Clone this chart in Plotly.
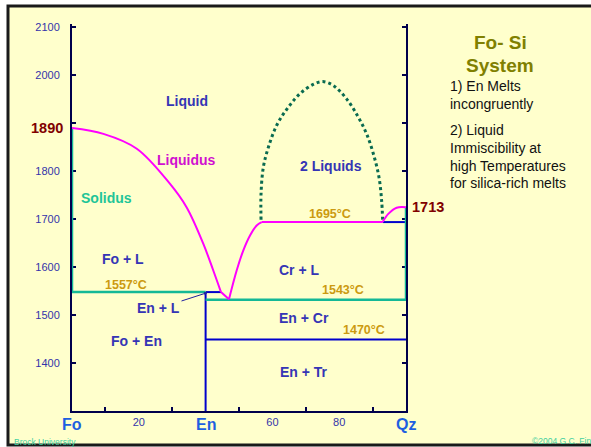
import plotly.graph_objects as go

# ---- data ----
liq_arc_x = [0, 9.4, 19.4, 29.3, 34.3, 39.3, 42.3, 44.6]
liq_arc_T = [1890, 1878, 1847, 1774, 1725, 1649, 1593, 1548]
liq_eut_x = [44.6, 47.0]
liq_eut_T = [1548, 1533]
liq_cr_x = [47.0, 49.3, 51.3, 53.3, 55.3, 56.8]
liq_cr_T = [1533, 1593, 1635, 1666, 1687, 1694]
liq_flat_x = [56.8, 93.0]
liq_flat_T = [1694, 1694]
liq_end_x = [93.0, 94.7, 97.2, 100]
liq_end_T = [1694, 1711, 1724, 1725]

solv_x = [56.6, 56.6, 57.3, 58.8, 61.3, 64.8, 68.3, 72.2, 75.1, 78.2, 82.2, 85.7, 88.2, 90.2, 91.9, 92.7, 93.0]
solv_T = [1699, 1753, 1809, 1850, 1896, 1934, 1962, 1981, 1987, 1979, 1951, 1913, 1878, 1837, 1788, 1739, 1699]

solidus_x = [0, 0, 40]
solidus_T = [1890, 1548, 1548]
peri_x = [40, 44.6]
peri_T = [1548, 1548]
cr_sol_x = [40, 100, 100]
cr_sol_T = [1532, 1532, 1725]
en_x = [40, 40]
en_T = [1548, 1300]
tr_x = [40, 100]
tr_T = [1449, 1449]
imm_x = [93, 100]
imm_T = [1694, 1694]

y_ticks = [1400, 1500, 1600, 1700, 1800, 1900, 2000, 2100]
y_text = ["1400", "1500", "1600", "1700", "1800", "", "2000", "2100"]
x_ticks = [20, 60, 80]
x_text = ["20", "60", "80"]

end_labels = ["Fo", "En", "Qz"]
end_pos = [0, 40, 100]

regions = ["Liquid", "Fo + L", "Fo + En", "Cr + L", "En + Cr", "En + Tr", "2 Liquids"]
region_x = [34.4, 15.4, 19.4, 68.1, 69.6, 69.5, 77.5]
region_T = [1946, 1616, 1447, 1595, 1494, 1381, 1812]

temps = ["1557°C", "1543°C", "1470°C", "1695°C"]
temp_x = [16.2, 81.2, 87.5, 77.3]
temp_T = [1563, 1551.5, 1468, 1711]

notes = ["1) En Melts", "incongruently", "2) Liquid", "Immiscibility at",
         "high Temperatures", "for silica-rich melts"]
note_px = [86, 103.5, 130, 147.7, 165.5, 182.7]

FONT = "Arial, Liberation Sans, sans-serif"
NAVY = "#00004D"
BLUE = "#0000CC"
TEAL = "#14B896"
MAG = "#FF00FF"
LAB = "#3535B5"
GOLD = "#CC9A10"

fig = go.Figure()

def line(x, y, color, width, shape="linear", dash="solid"):
    fig.add_trace(go.Scatter(x=x, y=y, mode="lines", hoverinfo="skip",
                             line=dict(color=color, width=width, shape=shape, dash=dash),
                             showlegend=False))

line(en_x, en_T, BLUE, 2)
line(tr_x, tr_T, BLUE, 2)
line(peri_x, peri_T, BLUE, 2)
line(imm_x, imm_T, BLUE, 2)
line(cr_sol_x, cr_sol_T, TEAL, 2.5)
line(solidus_x, solidus_T, TEAL, 2.5)
line(solv_x, solv_T, "#0A6B50", 3, shape="spline", dash="dot")
line(liq_arc_x, liq_arc_T, MAG, 2, shape="spline")
line(liq_eut_x, liq_eut_T, MAG, 2)
line(liq_cr_x, liq_cr_T, MAG, 2, shape="spline")
line(liq_flat_x, liq_flat_T, MAG, 2)
line(liq_end_x, liq_end_T, MAG, 2, shape="spline")

ann = []
for t, x, y in zip(regions, region_x, region_T):
    ann.append(dict(x=x, y=y, text=f"<b>{t}</b>", showarrow=False,
                    font=dict(family=FONT, size=14, color=LAB)))
for t, x, y in zip(temps, temp_x, temp_T):
    ann.append(dict(x=x, y=y, text=f"<b>{t}</b>", showarrow=False,
                    font=dict(family=FONT, size=12.5, color=GOLD)))
ann.append(dict(x=34.2, y=1823, text="<b>Liquidus</b>", showarrow=False,
                font=dict(family=FONT, size=14, color="#D010D0")))
ann.append(dict(x=10.4, y=1744, text="<b>Solidus</b>", showarrow=False,
                font=dict(family=FONT, size=14, color="#1FC598")))
ann.append(dict(x=40.6, y=1547, ax=25.9, ay=1514, axref="x", ayref="y",
                text="<b>En + L</b>", showarrow=True, arrowhead=2, arrowsize=0.7,
                arrowwidth=1, arrowcolor="#2020A0",
                font=dict(family=FONT, size=14, color=LAB)))
ann.append(dict(x=0, y=1890, xref="x", yref="y", xanchor="right", xshift=-7,
                text="<b>1890</b>", showarrow=False,
                font=dict(family=FONT, size=14.5, color="#800000")))
ann.append(dict(x=100, y=1725, xref="x", yref="y", xanchor="left", xshift=4,
                text="<b>1713</b>", showarrow=False,
                font=dict(family=FONT, size=14.5, color="#800000")))
for t, x in zip(end_labels, end_pos):
    ann.append(dict(x=x, y=0, xref="x", yref="paper", yanchor="middle", yshift=-13,
                    text=f"<b>{t}</b>", showarrow=False,
                    font=dict(family=FONT, size=16, color="#1E5FE0")))
# title block (pixel -> paper: x=(px-72)/334, y=(411-py)/387)
def px2paper(px, py):
    return (px - 72) / 334, (411 - py) / 387
for t, py in [("Fo- Si", 42.7), ("System", 65.7)]:
    xp, yp = px2paper(500, py)
    ann.append(dict(x=xp, y=yp, xref="paper", yref="paper", text=f"<b>{t}</b>",
                    showarrow=False, xanchor="center", yanchor="middle",
                    font=dict(family=FONT, size=19, color="#808000")))
for t, py in zip(notes, note_px):
    xp, yp = px2paper(448, py)
    ann.append(dict(x=xp, y=yp, xref="paper", yref="paper", text=t,
                    showarrow=False, xanchor="left", yanchor="middle",
                    font=dict(family=FONT, size=14, color="#111111")))
xp, yp = px2paper(12, 441.5)
ann.append(dict(x=xp, y=yp, xref="paper", yref="paper", text="Brock University",
                showarrow=False, xanchor="left", yanchor="middle",
                font=dict(family=FONT, size=8.5, color="#3FD0A0")))
xp, yp = px2paper(530, 441)
ann.append(dict(x=xp, y=yp, xref="paper", yref="paper", text="©2004 G.C. Finn",
                showarrow=False, xanchor="left", yanchor="middle",
                font=dict(family=FONT, size=8.5, color="#3FD0A0")))

x0, _ = px2paper(8, 0)
x1, _ = px2paper(640, 0)
_, y1 = px2paper(0, 6)
_, y0 = px2paper(0, 445)

fig.update_layout(
    width=591, height=447,
    margin=dict(l=72, r=185, t=24, b=36, pad=0),
    paper_bgcolor="white",
    plot_bgcolor="rgba(0,0,0,0)",
    showlegend=False,
    annotations=ann,
    shapes=[dict(type="rect", xref="paper", yref="paper", x0=x0, x1=x1, y0=y0, y1=y1,
                 fillcolor="#FFFFCC", line=dict(color="#1A1A1A", width=3), layer="below")],
    xaxis=dict(range=[0, 100], showgrid=False, zeroline=False, showline=True,
               linecolor=NAVY, linewidth=2, mirror=False, layer="below traces",
               tickmode="array", tickvals=x_ticks, ticktext=x_text, ticks="",
               minor=dict(tick0=10, dtick=20, ticks="inside", ticklen=4, tickwidth=2,
                          tickcolor=NAVY),
               tickfont=dict(family=FONT, size=11, color="#3333AA")),
    yaxis=dict(range=[1300, 2107.1], showgrid=False, zeroline=False, showline=True,
               linecolor=NAVY, linewidth=2, mirror="ticks", layer="below traces",
               tickmode="array", tickvals=y_ticks, ticktext=y_text,
               ticks="inside", ticklen=4, tickwidth=2, tickcolor=NAVY,
               ticklabelstandoff=8,
               tickfont=dict(family=FONT, size=11, color="#3333AA")),
)

fig.write_html("out.html", config={"displayModeBar": False},
               post_script="document.body.style.margin='0';document.body.style.overflow='hidden';")
